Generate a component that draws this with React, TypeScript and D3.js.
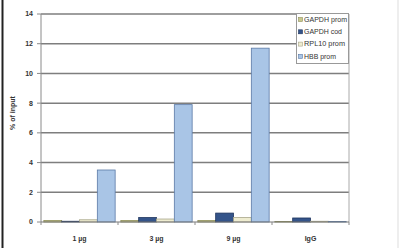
import React from "react";
import * as d3 from "d3";

const categories = ["1 µg", "3 µg", "9 µg", "IgG"];
const seriesNames = ["GAPDH prom", "GAPDH cod", "RPL10 prom", "HBB prom"];
const gapdhProm = [0.1, 0.1, 0.1, 0.03];
const gapdhCod = [0.05, 0.3, 0.6, 0.27];
const rpl10Prom = [0.15, 0.2, 0.3, 0.05];
const hbbProm = [3.5, 7.9, 11.7, 0.03];
const yTicks = [0, 2, 4, 6, 8, 10, 12, 14];

const seriesValues = [gapdhProm, gapdhCod, rpl10Prom, hbbProm];
const fills = ["#c9c98e", "#34548a", "#eeecd0", "#a9c5e6"];
const strokes = ["#8f8f5a", "#1f355e", "#a8a68a", "#5b7aa6"];
const legendTextWidths = [43, 38, 41, 32];

export default function App() {
  const W = 400, H = 248;
  const left = 41, right = 349, top = 14, bottom = 222;
  const x = d3.scaleBand<string>().domain(categories).range([left, right]).paddingInner(0).paddingOuter(0);
  const inner = d3.scaleBand<string>().domain(seriesNames).range([0, x.bandwidth()]).paddingOuter(0.16).paddingInner(0);
  const y = d3.scaleLinear().domain([0, 14]).range([bottom, top]);
  const font = "Arial, 'Liberation Sans', sans-serif";
  return (
    <svg width={W} height={H} style={{ position: "absolute", left: 0, top: 0, background: "#fff" }}>
      <rect x={0} y={0} width={W} height={H} fill="#fff" />
      <line x1={2.5} x2={2.5} y1={0} y2={H} stroke="#222" strokeWidth={2} />
      <line x1={398} x2={398} y1={0} y2={H} stroke="#ddd" strokeWidth={1} />
      {yTicks.map((t) => (
        <g key={t}>
          {t > 0 && <line x1={left} x2={right} y1={y(t)} y2={y(t)} stroke="#7e7e7e" strokeWidth={1.5} />}
          <line x1={37} x2={left} y1={y(t)} y2={y(t)} stroke="#8a8a8a" strokeWidth={1} />
          <text x={33} y={y(t)} dy="0.35em" textAnchor="end" fontSize={7} fontWeight="bold" fontFamily={font} fill="#333">{t}</text>
        </g>
      ))}
      <line x1={right} x2={right} y1={top} y2={bottom} stroke="#aaa" strokeWidth={1} />
      <line x1={left} x2={left} y1={top} y2={bottom} stroke="#8a8a8a" strokeWidth={1} />
      {categories.map((c, ci) => (
        <g key={c}>
          {seriesValues.map((vals, si) => {
            const bx = (x(c) as number) + (inner(seriesNames[si]) as number);
            return (
              <rect key={si} x={bx} y={y(vals[ci])} width={inner.bandwidth()} height={bottom - y(vals[ci])}
                fill={fills[si]} stroke={strokes[si]} strokeWidth={0.8} />
            );
          })}
          <text x={(x(c) as number) + x.bandwidth() / 2} y={241} textAnchor="middle" fontSize={7} fontWeight="bold" fontFamily={font} fill="#333">{c}</text>
        </g>
      ))}
      <line x1={left} x2={right} y1={bottom} y2={bottom} stroke="#777" strokeWidth={1.2} />
      {[...categories.map((c) => x(c) as number), right].map((px, i) => (
        <line key={i} x1={px} x2={px} y1={bottom} y2={bottom + 3} stroke="#8a8a8a" strokeWidth={1} />
      ))}
      <text transform={`translate(15,${(top + bottom) / 2 - 5}) rotate(-90)`} textAnchor="middle" fontSize={7} fontWeight="bold" fontFamily={font} fill="#333">% of input</text>
      <g>
        <rect x={296.5} y={13.5} width={52} height={50} fill="#fff" stroke="#999" strokeWidth={1} />
        {seriesNames.map((s, i) => (
          <g key={s}>
            <rect x={298.5} y={17.5 + i * 12.3} width={4} height={4} fill={fills[i]} stroke={strokes[i]} strokeWidth={0.6} />
            <text x={304} y={19.5 + i * 12.3} dy="0.35em" fontSize={6.6} fontFamily={font} fill="#333" textLength={legendTextWidths[i]} lengthAdjust="spacingAndGlyphs">{s}</text>
          </g>
        ))}
      </g>
    </svg>
  );
}
